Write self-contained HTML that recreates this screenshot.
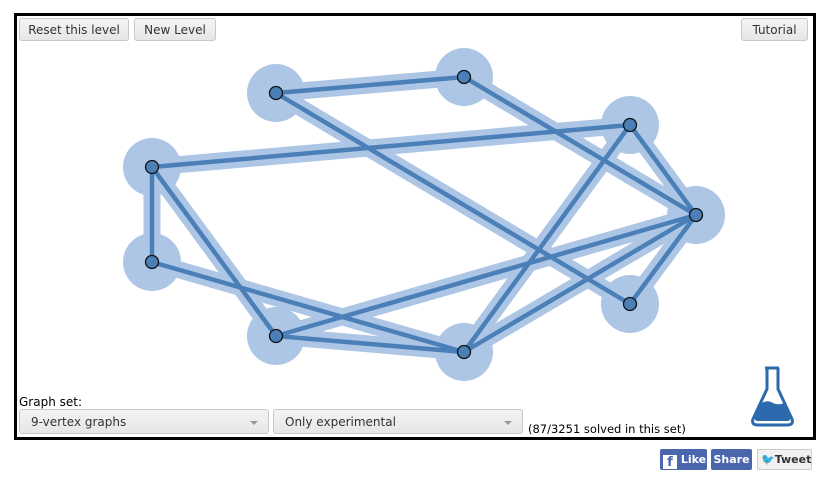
<!DOCTYPE html>
<html><head><style>
body{margin:0;width:832px;height:483px;background:#fff;position:relative;font-family:"DejaVu Sans","Liberation Sans",sans-serif;overflow:hidden}
.box{position:absolute;left:14px;top:13px;width:802px;height:427px;border:3px solid #000;box-sizing:border-box}
.btn{position:absolute;height:23px;top:18px;background:linear-gradient(#f4f4f4,#e6e6e6);border:1px solid #c8c8c8;border-radius:3px;font-size:12px;color:#333;line-height:22px;text-align:center;box-sizing:border-box}
.sel{position:absolute;top:409px;height:25px;background:linear-gradient(#f4f4f4,#e6e6e6);border:1px solid #c8c8c8;border-radius:3px;font-size:12px;color:#333;line-height:24px;padding-left:11px;box-sizing:border-box}
.sel:after{content:"";position:absolute;right:10px;top:11px;border:4px solid transparent;border-top:4px solid #999}
.t{position:absolute;font-size:12px;color:#000;white-space:nowrap}
.sb{position:absolute;top:449px;height:21px;color:#fff;font-weight:bold;font-size:11px;line-height:21px;border-radius:2px;box-sizing:border-box;white-space:nowrap;overflow:hidden}
</style></head><body>
<svg width="832" height="483" style="position:absolute;left:0;top:0">
<g stroke="#adc6e5" stroke-width="17" stroke-linecap="round">
<line x1="276" y1="93" x2="464" y2="77"/><line x1="464" y1="77" x2="696" y2="215"/><line x1="276" y1="93" x2="630" y2="304"/>
<line x1="152" y1="167" x2="630" y2="125"/><line x1="152" y1="167" x2="152" y2="262"/><line x1="152" y1="167" x2="276" y2="336"/>
<line x1="152" y1="262" x2="464" y2="352"/><line x1="276" y1="336" x2="464" y2="352"/><line x1="276" y1="336" x2="696" y2="215"/>
<line x1="464" y1="352" x2="696" y2="215"/><line x1="464" y1="352" x2="630" y2="125"/><line x1="630" y1="304" x2="696" y2="215"/><line x1="630" y1="125" x2="696" y2="215"/>
</g>
<g fill="#adc6e5">
<circle cx="276" cy="93" r="29"/><circle cx="464" cy="77" r="29"/><circle cx="630" cy="125" r="29"/><circle cx="152" cy="167" r="29"/><circle cx="696" cy="215" r="29"/><circle cx="152" cy="262" r="29"/><circle cx="630" cy="304" r="29"/><circle cx="276" cy="336" r="29"/><circle cx="464" cy="352" r="29"/>
</g>
<g stroke="#4a7fb8" stroke-width="4.5">
<line x1="276" y1="93" x2="464" y2="77"/><line x1="464" y1="77" x2="696" y2="215"/><line x1="276" y1="93" x2="630" y2="304"/>
<line x1="152" y1="167" x2="630" y2="125"/><line x1="152" y1="167" x2="152" y2="262"/><line x1="152" y1="167" x2="276" y2="336"/>
<line x1="152" y1="262" x2="464" y2="352"/><line x1="276" y1="336" x2="464" y2="352"/><line x1="276" y1="336" x2="696" y2="215"/>
<line x1="464" y1="352" x2="696" y2="215"/><line x1="464" y1="352" x2="630" y2="125"/><line x1="630" y1="304" x2="696" y2="215"/><line x1="630" y1="125" x2="696" y2="215"/>
</g>
<g fill="#4a7fb8" stroke="#111" stroke-width="1.3">
<circle cx="276" cy="93" r="6.5"/><circle cx="464" cy="77" r="6.5"/><circle cx="630" cy="125" r="6.5"/><circle cx="152" cy="167" r="6.5"/><circle cx="696" cy="215" r="6.5"/><circle cx="152" cy="262" r="6.5"/><circle cx="630" cy="304" r="6.5"/><circle cx="276" cy="336" r="6.5"/><circle cx="464" cy="352" r="6.5"/>
</g>
<g transform="translate(751,367)">
<path d="M14 1 H28 M16 1 V22 L2 52 Q0 58 7 58 H36 Q43 58 41 52 L27 22 V1" fill="none" stroke="#2a6aad" stroke-width="3"/>
<path d="M9 37 Q16 32 22 36 Q28 39 35 35 L39 50 Q40 54 36 54 H7 Q3 54 4 50 Z" fill="#2a6aad"/>
</g>
</svg>
<div class="box"></div>
<div class="btn" style="left:19px;width:110px">Reset this level</div>
<div class="btn" style="left:134px;width:82px">New Level</div>
<div class="btn" style="left:741px;width:67px">Tutorial</div>
<div class="t" style="left:19px;top:395px">Graph set:</div>
<div class="sel" style="left:19px;width:250px">9-vertex graphs</div>
<div class="sel" style="left:273px;width:250px">Only experimental</div>
<div class="t" style="left:528px;top:422px;font-size:11.5px">(87/3251 solved in this set)</div>
<div class="sb" style="left:660px;width:47px;background:#4a66ad;padding-left:3px"><span style="display:inline-block;width:14px;height:14px;background:#fff;color:#4a66ad;text-align:center;line-height:16px;vertical-align:-3px;font-size:13px">f</span> Like</div>
<div class="sb" style="left:711px;width:41px;background:#4a66ad;text-align:center">Share</div>
<div class="sb" style="left:757px;width:55px;background:#f1f1f1;border:1px solid #ccc;color:#333;padding-left:3px;line-height:19px"><span style="color:#2a9fd8;font-size:11px">🐦</span>Tweet</div>
</body></html>
